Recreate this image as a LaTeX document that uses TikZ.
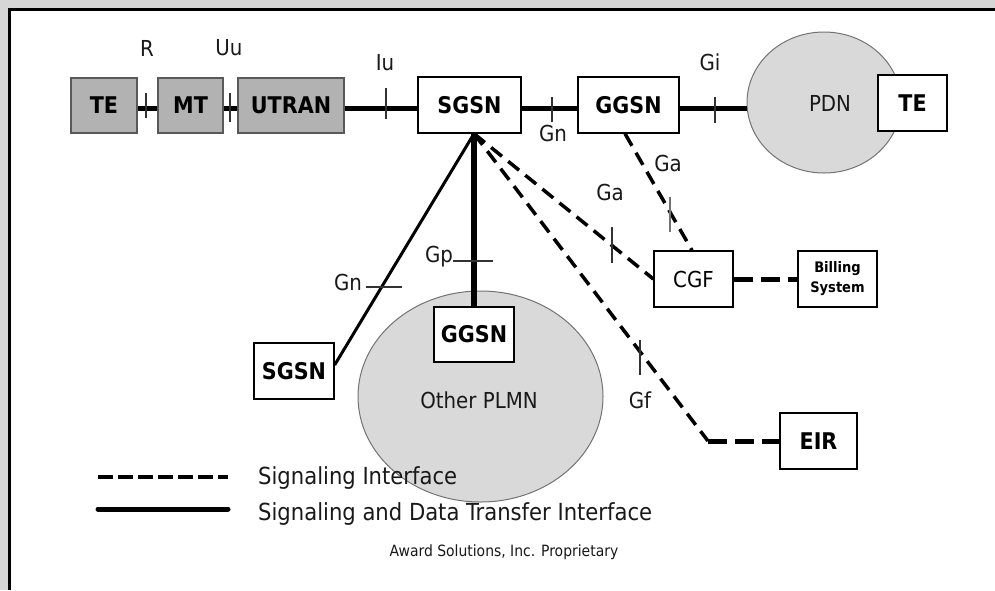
\documentclass[tikz,border=0pt]{standalone}
\usepackage{fontspec}
\setmainfont{DejaVu Sans Condensed}
\usetikzlibrary{shapes.geometric}
\begin{document}
\begin{tikzpicture}[x=1pt,y=-1pt,
  boxfont/.style={font=\fontsize{23}{26}\selectfont\bfseries},
  whitebox/.style={draw=black, line width=1.3pt, fill=white, inner sep=0pt,
    minimum width=#1, minimum height=56pt, text=black, boxfont},
  greybox/.style={draw=black!65, line width=1.3pt, fill=black!30, inner sep=0pt,
    minimum width=#1, minimum height=55pt, text=black, boxfont},
  cloud/.style={ellipse, draw=black!55, line width=1pt, fill=black!15, inner sep=0pt},
  lbl/.style={font=\fontsize{22}{26}\selectfont, text=black!90, inner sep=0pt},
  datalink/.style={line width=5pt, black},
  siglink/.style={line width=3.5pt, black, dash pattern=on 14pt off 8pt},
  sigheavy/.style={line width=5pt, black, dash pattern=on 19pt off 8pt},
  tick/.style={line width=1.2pt, black!80},
]
\useasboundingbox (0,0) rectangle (995,590);

% page background and frame
\fill[black!16] (0,0) rectangle (995,590);
\fill[white] (8,8) rectangle (995,590);
\draw[line width=3pt] (9.5,590) -- (9.5,9.5) -- (995,9.5);

% clouds
\node[cloud, minimum width=154pt, minimum height=141pt] (pdn) at (824,102.5) {};
\node[lbl] (pdnlbl) at (830,103) {PDN};
\node[cloud, minimum width=245pt, minimum height=211pt] (plmn) at (480.5,396.5) {};
\node[lbl] (plmnlbl) at (479,400) {Other PLMN};

% nodes
\node[greybox=66pt] (te1) at (104,105.5) {TE};
\node[greybox=65pt] (mt) at (190.5,105.5) {MT};
\node[greybox=106pt] (utran) at (291,105.5) {UTRAN};
\node[whitebox=103pt] (sgsn) at (469.5,105) {SGSN};
\node[whitebox=101pt] (ggsn) at (628.5,105) {GGSN};
\node[whitebox=69pt] (te2) at (912.5,103) {TE};
\node[whitebox=79pt, font=\fontsize{22}{26}\selectfont] (cgf) at (693.5,279) {CGF};
\node[whitebox=79pt, font=\fontsize{14.5}{20}\selectfont\bfseries, align=center] (bill) at (837.5,279) {Billing\\System};
\node[whitebox=77pt] (eir) at (818.5,441) {EIR};
\node[whitebox=80pt] (sgsn2) at (294,371) {SGSN};
\node[whitebox=80pt, minimum height=55pt] (ggsn2) at (474,334.5) {GGSN};

% helper points
\coordinate (bus) at (0,108);
\coordinate (apex) at ([xshift=4.5pt]sgsn.south);
\coordinate (eircorner) at (708,441);

% signaling and data transfer links
\draw[datalink] (te1.east |- bus) -- (mt.west |- bus);
\draw[datalink] (mt.east |- bus) -- (utran.west |- bus);
\draw[datalink] (utran.east |- bus) -- (sgsn.west |- bus);
\draw[datalink] (sgsn.east |- bus) -- (ggsn.west |- bus);
\draw[datalink] (ggsn.east |- bus) -- (pdn.west |- bus);
\draw[line width=6.5pt] (apex) -- (ggsn2.north);
\draw[line width=3pt] (apex) -- ([yshift=6pt]sgsn2.east);

% signaling links
\draw[siglink] (apex) -- (cgf.west);
\draw[siglink] (apex) -- (eircorner);
\draw[sigheavy] (eircorner) -- (eir.west);
\draw[siglink] ([xshift=-3.5pt]ggsn.south) -- ([xshift=-1.5pt]cgf.north);
\draw[sigheavy] (cgf.east) -- (bill.west);

% redraw boxes sitting on the links
\node[whitebox=69pt] at (te2) {TE};
\node[whitebox=80pt, minimum height=55pt] at (ggsn2) {GGSN};

% interface reference ticks
\draw[tick] (146,93) -- (146,118);
\draw[tick] (230,93) -- (230,122);
\draw[tick] (386,88) -- (386,119);
\draw[tick] (552,97) -- (552,122);
\draw[tick] (715,97) -- (715,123);
\draw[tick, black!55] (670,197) -- (670,232);
\draw[tick] (612,227) -- (612,263);
\draw[tick] (640,340) -- (640,375);
\draw[tick] (366,287) -- (402,287);
\draw[tick] (453,261) -- (493,261);

% interface labels
\node[lbl] (lR) at (147,48) {R};
\node[lbl] (lUu) at (229,48) {Uu};
\node[lbl] (lIu) at (385,63) {Iu};
\node[lbl] (lGn1) at (553,133) {Gn};
\node[lbl] (lGi) at (710,62) {Gi};
\node[lbl] (lGa1) at (668,163) {Ga};
\node[lbl] (lGa2) at (610,192) {Ga};
\node[lbl] (lGp) at (439,257) {Gp};
\node[lbl] (lGn2) at (348,282) {Gn};
\node[lbl] (lGf) at (640,400) {Gf};

% legend
\coordinate (legA1) at (98,477);
\coordinate (legA2) at (228,477);
\coordinate (legB1) at (98,509);
\coordinate (legB2) at (228,509);
\draw[line width=4.5pt, dash pattern=on 15pt off 5pt] (legA1) -- (legA2);
\draw[line width=5pt, line cap=round] (legB1) -- (legB2);
\node[lbl, font=\fontsize{23.5}{26}\selectfont, anchor=west] (legAt) at (258,478) {Signaling Interface};
\node[lbl, font=\fontsize{23.5}{26}\selectfont, anchor=west] (legBt) at (258,514) {Signaling and Data Transfer Interface};
\node[lbl, font=\fontsize{15.5}{18}\selectfont] (foot) at (504,552) {Award Solutions, Inc. Proprietary};
\end{tikzpicture}
\end{document}
